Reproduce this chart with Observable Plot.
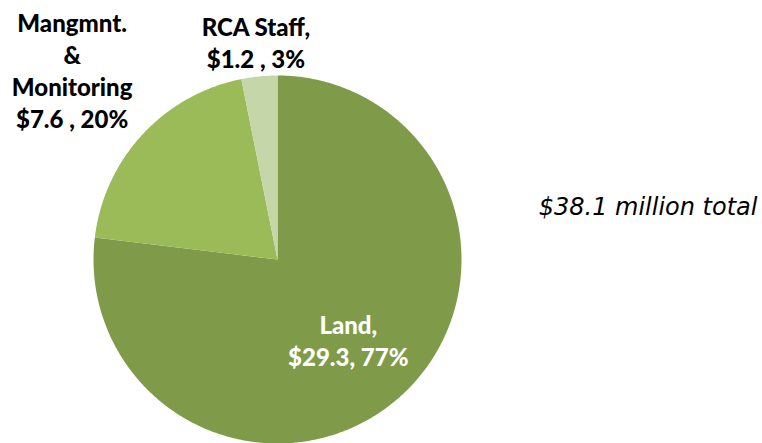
<!DOCTYPE html>
<html>
<head>
<meta charset="utf-8">
<script src="https://cdn.jsdelivr.net/npm/d3@7"></script>
<script src="https://cdn.jsdelivr.net/npm/@observablehq/plot@0.6"></script>
<style>
  html, body { margin: 0; padding: 0; background: #fff; }
  #chart { width: 762px; height: 443px; overflow: hidden; }
</style>
</head>
<body>
<div id="chart"></div>
<script>
// Data (millions of dollars)
const categories = ["Land", "Mangmnt. & Monitoring", "RCA Staff"];
const values = [29.3, 7.6, 1.2];
const labels = ["Land,\n$29.3, 77%", "Mangmnt.\n&\nMonitoring\n$7.6 , 20%", "RCA Staff,\n$1.2 , 3%"];
const colors = ["#7F9B4A", "#9BBB59", "#C5D6A8"];
const totalNote = "$38.1 million total";

// Layout
const W = 762, H = 443;
const cx = 277, cy = 259, R = 184; // pixel centre & radius
const labelRadius = [0.58, 1.52, 1.19];
const labelColor = ["#ffffff", "#000000", "#000000"];

// Build slice outlines in unit coordinates (radius = 1), clockwise from 12 o'clock
const total = d3.sum(values);
const slices = [];
const labelRows = [];
let start = 0;
categories.forEach((c, i) => {
  const span = values[i] / total * 2 * Math.PI;
  const end = start + span;
  slices.push({cat: c, x: 0, y: 0});
  const n = Math.max(4, Math.ceil(span / (Math.PI / 360)));
  for (let k = 0; k <= n; k++) {
    const a = start + span * k / n;
    slices.push({cat: c, x: Math.sin(a), y: Math.cos(a)});
  }
  slices.push({cat: c, x: 0, y: 0});
  const mid = (start + end) / 2;
  labelRows.push({cat: c, text: labels[i], color: labelColor[i],
                  x: labelRadius[i] * Math.sin(mid), y: labelRadius[i] * Math.cos(mid)});
  start = end;
});

const xDomain = [-cx / R, (W - cx) / R];
const yDomain = [-(H - cy) / R, cy / R];

const chart = Plot.plot({
  width: W,
  height: H,
  margin: 0,
  x: {domain: xDomain, range: [0, W], axis: null},
  y: {domain: yDomain, range: [H, 0], axis: null},
  color: {domain: categories, range: colors},
  style: {background: "#fff"},
  marks: [
    Plot.line(slices, {x: "x", y: "y", z: "cat", fill: "cat", stroke: "none", curve: "linear-closed"}),
    Plot.text(labelRows, {
      x: "x", y: "y", text: "text", fill: d => d.color,
      fontFamily: "Lato", fontWeight: 900, fontSize: 24, lineHeight: 1.33
    }),
    Plot.text([totalNote], {
      x: () => (757 - cx) / R, y: () => (cy - 207) / R, text: d => d,
      textAnchor: "end", fontFamily: "DejaVu Sans", fontStyle: "italic", fontSize: 24, fill: "#000"
    })
  ]
});
document.getElementById("chart").appendChild(chart);
</script>
</body>
</html>
